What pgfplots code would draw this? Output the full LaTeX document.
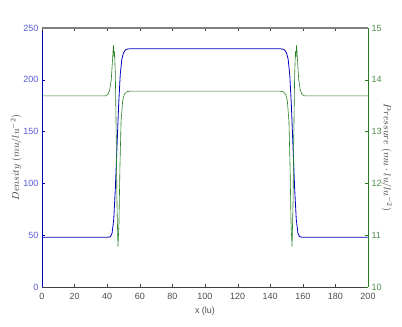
\documentclass[border=0pt]{standalone}
\usepackage{fontspec}
\setmainfont{Liberation Sans}
\usepackage{pgfplots}
\pgfplotsset{compat=1.18}
\definecolor{dblue}{rgb}{0.0,0.0,0.75}
\definecolor{lblue}{rgb}{0.35,0.35,0.85}
\definecolor{dgreen}{rgb}{0.15,0.5,0.15}
\definecolor{lgreen}{rgb}{0.3,0.55,0.3}
\begin{document}
\begin{tikzpicture}
\pgfplotsset{every axis/.append style={
  scale only axis, width=326pt, height=259pt,
  xmin=0, xmax=200,
  tick align=inside,
  major tick length=3pt,
  /pgf/number format/assume math mode=true,
  tick label style={font=\fontsize{9}{10}\selectfont},
  xtick={0,20,...,200},
}}
\begin{axis}[
  ymin=0, ymax=250, ytick={0,50,...,250},
  axis x line*=bottom, axis y line*=left,
  x axis line style={-, draw=black!75},
  y axis line style={-, draw=dblue, line width=0.8pt},
  xtick style={draw=black!75},
  ytick style={draw=dblue},
  xticklabel style={text=black!70, yshift=-3pt},
  yticklabel style={text=lblue},
  xlabel={x (lu)}, xlabel style={font=\fontsize{9}{10}\selectfont, text=black!70, yshift=0pt},
  ylabel={$Density\ (mu/lu^{-2})$}, ylabel style={font=\fontsize{10}{11}\selectfont, text=black!80, yshift=-5pt},
]
\addplot[dblue, line width=0.8pt] coordinates {
(0,48) (40,48) (42,48.5) (43,52) (44,65) (45,95) (46,135) (47,175) (48,205) (49,220) (50,226) (51,228.5) (52,229.5) (54,230)
(146,230) (148,229.5) (149,228.5) (150,226) (151,220) (152,205) (153,175) (154,135) (155,95) (156,65) (157,52) (158,48.5) (160,48) (200,48)};
\end{axis}
\begin{axis}[
  ymin=10, ymax=15, ytick={10,11,...,15},
  axis x line*=top, axis y line*=right,
  xticklabels={},
  x axis line style={-, draw=black!50, line width=1.2pt},
  y axis line style={-, draw=dgreen, line width=0.8pt},
  xtick style={draw=black!75},
  ytick style={draw=dgreen},
  yticklabel style={text=lgreen},
  ylabel={$Pressure\ (mu\cdot lu/lu^{-2})$},
  ylabel style={font=\fontsize{10}{11}\selectfont, text=black!80, rotate=180, yshift=-7pt},
]
\addplot[dgreen, line width=0.6pt] coordinates {
(0,13.69) (39,13.69) (40.5,13.72) (41.5,13.8) (42.5,14.0) (43.3,14.4) (43.8,14.67) (44.2,14.45) (44.5,14.55) (45,14.1) (45.5,13.0) (46,11.6) (46.6,10.78) (47.2,11.2) (47.8,12.3) (48.5,13.2) (49.5,13.6) (50.5,13.72) (52,13.77) (54,13.78)
(146,13.78) (148,13.77) (149.5,13.72) (150.5,13.6) (151.5,13.2) (152.2,12.3) (152.8,11.2) (153.4,10.78) (154,11.6) (154.5,13.0) (155,14.1) (155.5,14.55) (155.8,14.45) (156.2,14.67) (156.7,14.4) (157.5,14.0) (158.5,13.8) (159.5,13.72) (161,13.69) (200,13.69)};
\end{axis}
\pgfresetboundingbox
\path ([shift={(-42pt,-40pt)}]current axis.south west) rectangle ([shift={(34pt,28pt)}]current axis.north east);
\end{tikzpicture}
\end{document}
